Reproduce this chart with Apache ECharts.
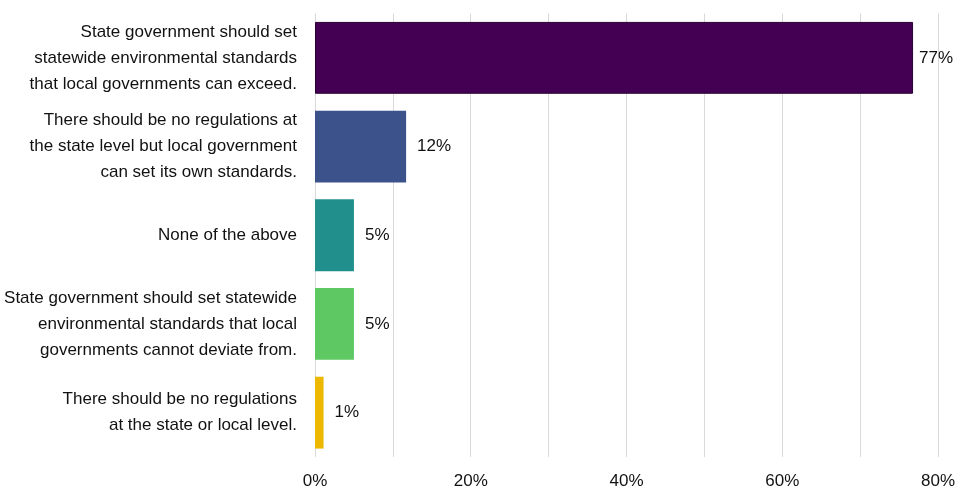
<!DOCTYPE html>
<html>
<head>
<meta charset="utf-8">
<script src="https://cdn.jsdelivr.net/npm/echarts@6/dist/echarts.min.js"></script>
<style>html,body{margin:0;padding:0;background:#fff}#c{width:958px;height:490px}</style>
</head>
<body>
<div id="c"></div>
<script>
const categories = [
  "State government should set\nstatewide environmental standards\nthat local governments can exceed.",
  "There should be no regulations at\nthe state level but local government\ncan set its own standards.",
  "None of the above",
  "State government should set statewide\nenvironmental standards that local\ngovernments cannot deviate from.",
  "There should be no regulations\nat the state or local level."
];
const values = [76.8, 11.7, 5.0, 5.0, 1.1];
const colors = ["#440154", "#3b528b", "#21908c", "#5ec962", "#edb800"];
const tickLabels = { 0: "0%", 20: "20%", 40: "40%", 60: "60%", 80: "80%" };

const chart = echarts.init(document.getElementById('c'), null, { renderer: 'canvas' });
const font = "'Liberation Sans', Arial, Helvetica, sans-serif";
chart.setOption({
  animation: false,
  grid: { left: 315, right: 15, top: 13.5, height: 445, containLabel: false },
  xAxis: {
    type: 'value', min: 0, max: 80, interval: 10,
    axisLine: { show: false }, axisTick: { show: false },
    splitLine: { show: true, lineStyle: { color: '#d9d9d9', width: 1 } },
    axisLabel: {
      margin: 16, color: '#111', fontSize: 17, fontFamily: font,
      formatter: v => (tickLabels[v] !== undefined ? tickLabels[v] : '')
    }
  },
  yAxis: {
    type: 'category', data: categories, inverse: true,
    axisLine: { show: false }, axisTick: { show: false },
    axisLabel: { margin: 18, color: '#111', fontSize: 17, lineHeight: 26, fontFamily: font, align: 'right' }
  },
  series: [{
    type: 'bar',
    barCategoryGap: '19%',
    data: values.map((v, i) => ({
      value: v,
      itemStyle: i === 0 ? { color: colors[i], borderColor: '#2a0033', borderWidth: 1 } : { color: colors[i] },
      label: i === 0 ? { distance: 6 } : undefined
    })),
    label: {
      show: true, position: 'right', distance: 11,
      color: '#111', fontSize: 17, fontFamily: font,
      formatter: p => Math.round(p.value) + '%'
    }
  }]
});
</script>
</body>
</html>
